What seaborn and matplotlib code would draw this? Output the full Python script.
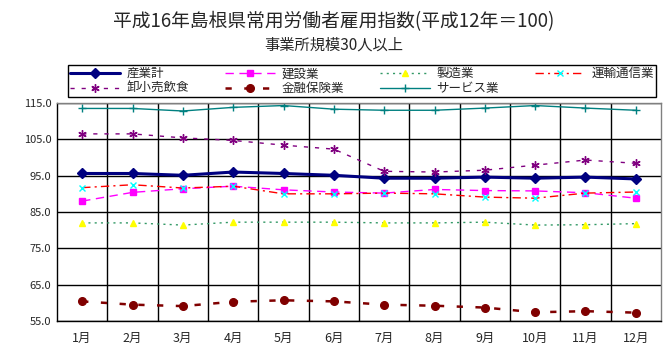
import matplotlib
matplotlib.use('Agg')
import matplotlib.pyplot as plt
import seaborn as sns
import pandas as pd

months = ['1月', '2月', '3月', '4月', '5月', '6月', '7月', '8月', '9月', '10月', '11月', '12月']
sangyokei = [95.6, 95.6, 95.1, 96.0, 95.6, 95.1, 94.3, 94.3, 94.6, 94.3, 94.6, 94.1]
kensetsu = [88.0, 90.4, 91.4, 92.1, 91.1, 90.5, 90.2, 91.2, 90.9, 90.8, 90.3, 88.8]
seizo = [82.0, 82.0, 81.4, 82.2, 82.2, 82.2, 82.0, 82.0, 82.2, 81.4, 81.5, 81.8]
unyu = [91.7, 92.5, 91.6, 92.1, 90.0, 90.0, 90.2, 90.0, 89.1, 88.8, 90.2, 90.5]
oroshi = [106.5, 106.5, 105.4, 104.7, 103.4, 102.3, 96.2, 96.0, 96.5, 97.9, 99.3, 98.4]
kinyu = [60.4, 59.5, 59.1, 60.3, 60.7, 60.4, 59.5, 59.2, 58.7, 57.4, 57.7, 57.3]
service = [113.5, 113.5, 112.8, 113.8, 114.3, 113.3, 113.0, 113.0, 113.6, 114.3, 113.6, 113.0]

series = {
    '産業計': sangyokei,
    '建設業': kensetsu,
    '製造業': seizo,
    '運輸通信業': unyu,
    '卸小売飲食': oroshi,
    '金融保険業': kinyu,
    'サービス業': service,
}

# line style for each series
styles = {
    '産業計': dict(color='#000080', ls='-', marker='D', ms=5.5, lw=2.2, mec='#000080'),
    '建設業': dict(color='#FF00FF', ls=(0, (6, 4)), marker='s', ms=4.5, lw=1.0, mec='#FF00FF'),
    '製造業': dict(color='#339966', ls=(0, (1.5, 3)), marker='^', ms=5, lw=1.0, mec='#FFFF00', mfc='#FFFF00'),
    '運輸通信業': dict(color='#FF0000', ls=(0, (6, 3, 1.5, 3)), marker='x', ms=4.5, lw=1.0, mec='#00FFFF'),
    '卸小売飲食': dict(color='#800080', ls=(0, (3, 5)), marker=(6, 2, 0), ms=6, lw=1.0, mec='#800080'),
    '金融保険業': dict(color='#800000', ls=(0, (2.5, 5)), marker='o', ms=5.5, lw=1.8, mec='#800000'),
    'サービス業': dict(color='#008080', ls='-', marker='+', ms=6, lw=1.0, mec='#008080'),
}

sns.set_style('white')
plt.rcParams['font.family'] = ['Noto Sans CJK JP', 'DejaVu Sans']

fig = plt.figure(figsize=(6.67, 3.53), dpi=100)
ax = fig.add_axes([57 / 667, 1 - 321 / 353, 604 / 667, 218 / 353])

handles = []
for name, vals in series.items():
    df = pd.DataFrame({'x': range(len(months)), 'y': vals})
    st = styles[name]
    sns.lineplot(data=df, x='x', y='y', ax=ax, color=st['color'], linestyle=st['ls'],
                 linewidth=st['lw'], marker=st['marker'], markersize=st['ms'],
                 markeredgecolor=st['mec'], markerfacecolor=st.get('mfc', st['mec']),
                 markeredgewidth=1.0, label=name, legend=False)
    handles.append(ax.lines[-1])

ax.set_xlim(-0.5, 11.5)
ax.set_ylim(55, 115)
ax.set_yticks([55, 65, 75, 85, 95, 105, 115])
ax.set_yticklabels([f'{v:.1f}' for v in [55, 65, 75, 85, 95, 105, 115]], fontsize=8)
ax.set_xticks([i + 0.5 for i in range(11)], minor=False)
ax.set_xticklabels([])
ax.set_xticks(range(12), minor=True)
ax.set_xticklabels(months, minor=True, fontsize=9)
ax.tick_params(axis='x', which='both', length=0, pad=8)
ax.tick_params(axis='y', length=0, pad=4)
ax.grid(True, which='major', color='black', lw=1.0)
ax.set_xlabel('')
ax.set_ylabel('')
for sp in ax.spines.values():
    sp.set_color('black')
    sp.set_linewidth(1.0)
ax.spines['top'].set_color('#808080')
ax.spines['right'].set_color('#808080')

order = [0, 4, 1, 5, 2, 6, 3]
fig.legend([handles[i] for i in order], [list(series)[i] for i in order],
           loc='lower left', bbox_to_anchor=(68 / 667, 1 - 97 / 353, 588 / 667, 35 / 353),
           mode='expand', ncol=4, fontsize=9, frameon=True, fancybox=False,
           edgecolor='black', framealpha=1, handlelength=4, borderaxespad=0,
           borderpad=0.15, labelspacing=0.15, handletextpad=0.5)

fig.text(0.5, 1 - 22 / 353, '平成16年島根県常用労働者雇用指数(平成12年＝100)',
         ha='center', va='center', fontsize=13.5)
fig.text(0.5, 1 - 45 / 353, '事業所規模30人以上', ha='center', va='center', fontsize=11)

fig.savefig('out.png', dpi=100, facecolor='white')
